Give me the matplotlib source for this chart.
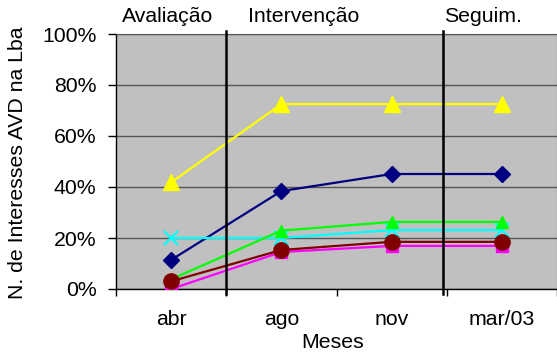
import matplotlib
matplotlib.use('Agg')
import matplotlib.pyplot as plt
from matplotlib.ticker import FixedLocator, PercentFormatter

plt.rcParams['font.family'] = ['Liberation Sans', 'DejaVu Sans']

# monthly values (% of AVD interests), one list per series
meses = ['abr', 'ago', 'nov', 'mar/03']
serie_azul = [11.4, 38.4, 45.1, 45.1]
serie_magenta = [0.0, 14.5, 16.9, 16.9]
serie_amarela = [41.8, 72.5, 72.5, 72.5]
serie_ciano = [20.0, 20.0, 23.1, 23.1]
serie_verde = [3.8, 22.9, 26.3, 26.3]
serie_bordo = [3.0, 15.3, 18.5, 18.5]

fases = ['Avaliação', 'Intervenção', 'Seguim.']
limites_fase = [1.0, 2.97]

fig = plt.figure(figsize=(5.57, 3.53), dpi=100)
ax = fig.add_axes([116 / 557, 64 / 353, 441 / 557, 255 / 353])
ax.set_facecolor('#c0c0c0')

x = [i + 0.5 for i in range(len(meses))]
fs = 15.3
lw = 1.6

ax.plot(x, serie_azul, color='#000080', lw=lw, marker='D', ms=8, zorder=3)
ax.plot(x, serie_magenta, color='#ff00ff', lw=lw, marker='s', ms=9, zorder=3)
ax.plot(x, serie_amarela, color='#ffff00', lw=lw, marker='^', ms=11, zorder=3)
ax.plot(x, serie_ciano, color='#00ffff', lw=lw, marker='x', ms=10, mew=1.6, zorder=3)
ax.plot(x, serie_verde, color='#00ff00', lw=lw, marker='^', ms=9, zorder=3)
ax.plot(x, serie_bordo, color='#800000', lw=lw, marker='o', ms=11, zorder=3)

ax.set_xlim(0, 4)
ax.set_ylim(0, 100)
ax.yaxis.set_major_locator(FixedLocator([0, 20, 40, 60, 80, 100]))
ax.yaxis.set_major_formatter(PercentFormatter(decimals=0))
ax.grid(axis='y', color='#555555', lw=1.0)
ax.set_axisbelow(True)

ax.set_xticks(x)
ax.set_xticklabels(meses)
ax.set_xticks(range(5), minor=True)
ax.tick_params(axis='x', which='major', length=0, pad=15, labelsize=fs)
ax.tick_params(axis='x', which='minor', length=5, width=1)
ax.tick_params(axis='y', length=6, width=1, pad=8, labelsize=fs)

for s in ['top', 'right']:
    ax.spines[s].set_color('#555555')
for s in ['left', 'bottom']:
    ax.spines[s].set_color('#000000')
    ax.spines[s].set_linewidth(1.0)

# phase separators
for xv in limites_fase:
    ax.plot([xv, xv], [-2, 101], color='black', lw=1.8, clip_on=False, zorder=4)

fig.text(168 / 557, 1 - 17 / 353, fases[0], ha='center', va='center', fontsize=fs)
fig.text(304 / 557, 1 - 17 / 353, fases[1], ha='center', va='center', fontsize=fs)
fig.text(483 / 557, 1 - 17 / 353, fases[2], ha='center', va='center', fontsize=fs)

fig.text(333 / 557, 1 - 343 / 353, 'Meses', ha='center', va='center', fontsize=fs)
fig.text(18 / 557, 1 - 163 / 353, 'N. de Interesses AVD na Lba', ha='center',
         va='center', rotation=90, fontsize=fs)

fig.savefig('out.png', dpi=100)
